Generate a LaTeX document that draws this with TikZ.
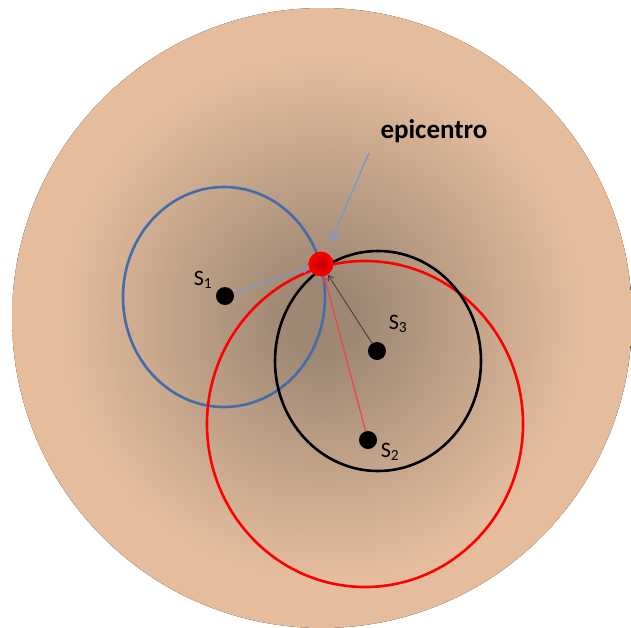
\documentclass[tikz,border=0pt]{standalone}
\usepackage{fontspec}
\setmainfont{Carlito}
\usetikzlibrary{arrows.meta, positioning}
\definecolor{peach}{RGB}{229,189,157}
\definecolor{soil}{RGB}{158,136,116}
\definecolor{ringblue}{RGB}{68,108,168}
\definecolor{arrowblue}{RGB}{125,152,198}
\definecolor{rayred}{RGB}{232,70,70}
\pgfdeclareradialshading{crust}{\pgfpoint{0bp}{0bp}}{color(0bp)=(soil); color(3bp)=(soil); color(21bp)=(peach); color(25bp)=(peach); color(50bp)=(peach)}
\tikzset{
  station/.style={circle, fill=black, inner sep=0pt, minimum size=18pt},
  focus/.style={circle, inner sep=0pt, minimum size=25pt, shading=radial,
    inner color=red!75!black, outer color=red},
  ring/.style={line width=2.6pt},
  ray/.style={line width=1.2pt, -{Straight Barb[length=5pt, width=6pt]}},
  slabel/.style={font=\fontsize{22}{24}\selectfont},
  pointer/.style={line width=1.4pt, arrowblue, -{Straight Barb[length=9pt, width=10pt]}}
}
\begin{document}
\begin{tikzpicture}[x=1pt, y=-1pt]
  \useasboundingbox (0,0) rectangle (631,627);
  % earth
  \fill[shading=crust] (322,318) circle[radius=310pt];
  % distance rings
  \draw[ring, ringblue] (224,297) ellipse[x radius=101pt, y radius=110pt];
  \draw[ring, red] (365,424) ellipse[x radius=158pt, y radius=163pt];
  \draw[ring, black] (378,361) ellipse[x radius=103pt, y radius=110pt];
  % stations and epicentre
  \node[station] (s1) at (225,296) {};
  \node[station] (s2) at (368,440) {};
  \node[station] (s3) at (377,351) {};
  \node[focus] (epi) at (321,264) {};
  \node[slabel] at (203,280) {S\textsubscript{1}};
  \node[slabel] at (390,452) {S\textsubscript{2}};
  \node[slabel] at (398,324) {S\textsubscript{3}};
  \node[font=\fontsize{27}{30}\selectfont\bfseries] (lbl) at (434,131) {epicentro};
  \coordinate (tip) at (369,153);
  \draw[ray, arrowblue] (s1) -- (epi);
  \draw[ray, rayred] (s2) -- (epi);
  \draw[ray, black!75, line width=0.9pt] (s3) -- (epi);
  \draw[pointer, shorten >=11pt] (tip) -- (epi);
\end{tikzpicture}
\end{document}
